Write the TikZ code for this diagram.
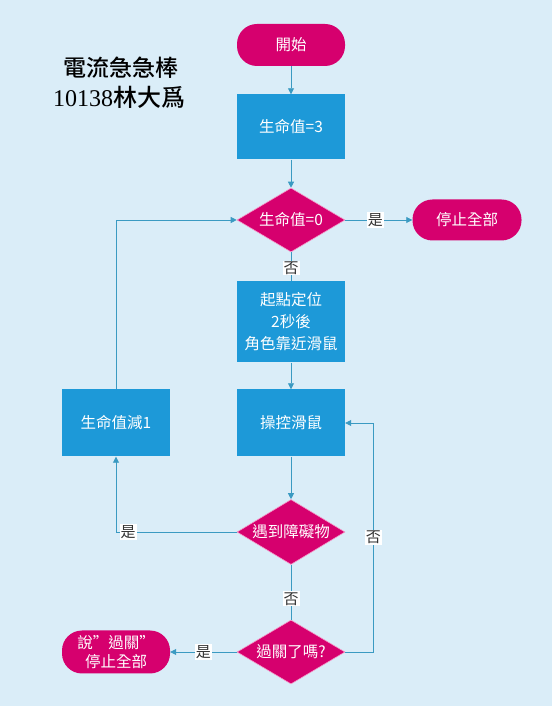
\documentclass[tikz,border=0pt]{standalone}
\usepackage{fontspec}
\usepackage{tikz}
\usetikzlibrary{positioning, arrows.meta, shapes.geometric}
\newfontfamily\cjk{Noto Sans CJK TC}
\newfontfamily\cjktitle{Noto Sans CJK TC Medium}
\newfontfamily\digitfont{Liberation Serif}
\definecolor{bgblue}{HTML}{DAEDF8}
\definecolor{flowpink}{HTML}{D6006E}
\definecolor{edgepink}{HTML}{F59AC8}
\definecolor{boxblue}{HTML}{1D99D8}
\definecolor{lineteal}{HTML}{3A9AC2}

\begin{document}
\begin{tikzpicture}[x=1pt, y=1pt,
    pill/.style={fill=flowpink, rounded corners=20pt, text=white, font=\cjk\fontsize{15.5}{19}\selectfont,
                 minimum width=108pt, minimum height=42pt, align=center, inner sep=0pt},
    procbox/.style={fill=boxblue, text=white, font=\cjk\fontsize{15.5}{22}\selectfont,
                 minimum width=108pt, minimum height=66pt, align=center, inner sep=0pt},
    decide/.style={diamond, fill=flowpink, draw=edgepink, line width=0.6pt, text=white,
                 font=\cjk\fontsize{15.5}{19}\selectfont, minimum width=108pt, minimum height=64pt,
                 inner sep=0pt, aspect=1.7},
    flow/.style={draw=lineteal, line width=0.8pt, -{Triangle[length=6pt, width=6pt]}},
    plain/.style={draw=lineteal, line width=0.8pt},
    lbl/.style={fill=white, text=black!80, font=\cjk\fontsize{15}{15}\selectfont, inner sep=1pt}]

  \useasboundingbox[fill=bgblue] (0,0) rectangle (552,706);

  % title
  \node (title1) at (121,638) {\cjktitle\fontsize{23}{23}\selectfont 電流急急棒};
  \node (title2) at (119,609) {\fontsize{24}{24}\selectfont{\digitfont 10138}\cjktitle 林大爲};

  % main column
  \node[pill] (start) at (291,661) {開始};
  \node[procbox, minimum height=65pt] (life3) at (291,579) {生命值=3};
  \node[decide] (chk0) at (291,486) {生命值=0};
  \node[pill, minimum width=109pt, minimum height=41pt] (stopall) at (467,486) {停止全部};
  \node[procbox, minimum height=81pt] (setup) at (291,384) {起點定位\\2秒後\\角色靠近滑鼠};
  \node[procbox, minimum height=67pt] (ctrl) at (291,283) {操控滑鼠};
  \node[procbox, minimum height=67pt] (dec) at (116,283) {生命值減1};
  \node[decide, minimum height=65pt] (hit) at (291,174) {遇到障礙物};
  \node[decide] (pass) at (291,54) {過關了嗎?};
  \node[pill, minimum height=43pt] (say) at (116,54) {說”過關”\\停止全部};

  % connectors
  \draw[flow] (start) -- (life3);
  \draw[flow] (life3) -- (chk0);
  \draw[flow] (chk0) -- node[lbl, pos=0.45]{是} (stopall);
  \draw[plain] (chk0) -- (setup);
  \node[lbl] (no1) at (291,438) {否};
  \draw[flow] (setup) -- (ctrl);
  \draw[flow] (ctrl) -- (hit);
  \draw[plain] (hit) -- node[lbl, pos=0.62]{否} (pass);
  \draw[flow] (hit.west) -| node[lbl, pos=0.45]{是} (dec.south);
  \draw[flow] (dec.north) |- (chk0.west);
  \draw[flow] (pass.east) -- ++(28,0) |- node[lbl, pos=0.25]{否} (ctrl.east);
  \draw[flow] (pass.west) -- node[lbl, pos=0.5]{是} (say.east);
\end{tikzpicture}
\end{document}
